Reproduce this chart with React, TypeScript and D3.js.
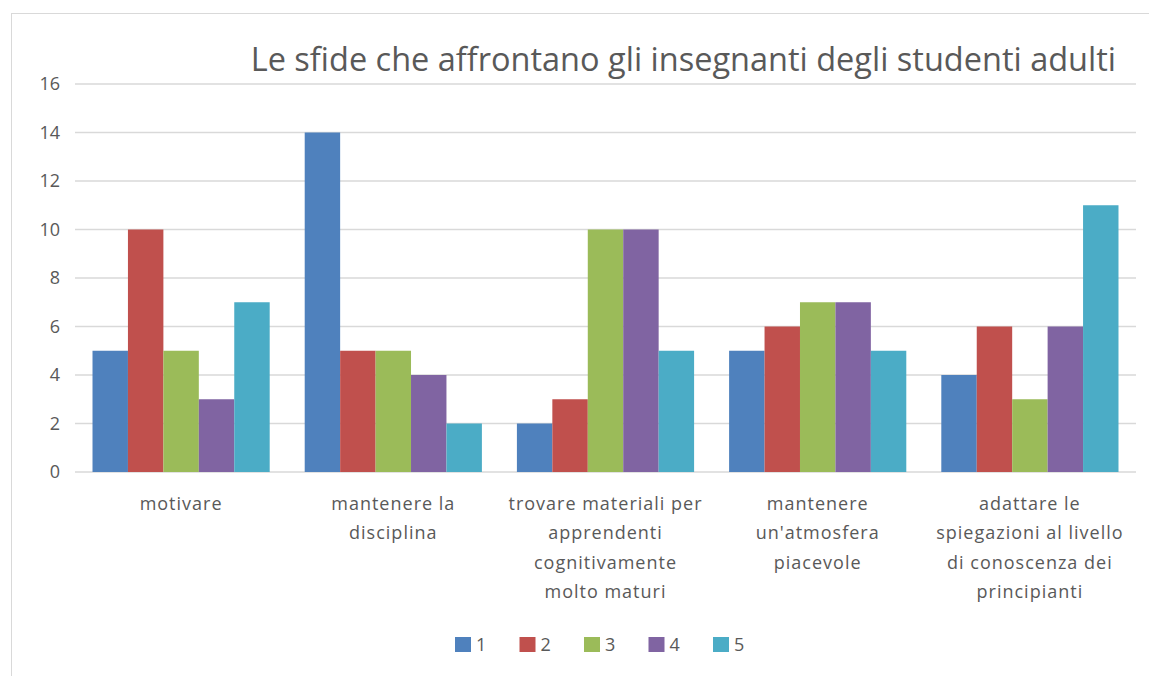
import * as d3 from "d3";

const categories = [
  "motivare",
  "mantenere la disciplina",
  "trovare materiali per apprendenti cognitivamente molto maturi",
  "mantenere un'atmosfera piacevole",
  "adattare le spiegazioni al livello di conoscenza dei principianti",
];
const categoryLines = [
  ["motivare"],
  ["mantenere la", "disciplina"],
  ["trovare materiali per", "apprendenti", "cognitivamente", "molto maturi"],
  ["mantenere", "un'atmosfera", "piacevole"],
  ["adattare le", "spiegazioni al livello", "di conoscenza dei", "principianti"],
];
const seriesNames = ["1", "2", "3", "4", "5"];
const series1 = [5, 14, 2, 5, 4];
const series2 = [10, 5, 3, 6, 6];
const series3 = [5, 5, 10, 7, 3];
const series4 = [3, 4, 10, 7, 6];
const series5 = [7, 2, 5, 5, 11];
const yTicks = [0, 2, 4, 6, 8, 10, 12, 14, 16];
const colors = ["#4F81BD", "#C0504D", "#9BBB59", "#8064A2", "#4BACC6"];

const W = 1149;
const H = 676;
const font = "'Open Sans', 'Noto Sans', sans-serif";

export default function App() {
  const allSeries = [series1, series2, series3, series4, series5];
  const left = 75, right = 1136, top = 84, bottom = 472;

  const x0 = d3.scaleBand<number>()
    .domain(d3.range(categories.length))
    .range([left, right])
    .paddingInner(0.165)
    .paddingOuter(0.0825);
  const x1 = d3.scaleBand<number>()
    .domain(d3.range(seriesNames.length))
    .range([0, x0.bandwidth()]);
  const y = d3.scaleLinear().domain([0, 16]).range([bottom, top]);

  const legendX = d3.scalePoint<string>()
    .domain(seriesNames)
    .range([454, 712]);

  return (
    <svg width={W} height={H} style={{ position: "absolute", left: 0, top: 0 }} fontFamily={font}>
      <rect x={0} y={0} width={W} height={H} fill="#fff" />
      <rect x={11.5} y={13.5} width={1140} height={670} fill="#fff" stroke="#d9d9d9" />
      <text x={1116} y={71} textAnchor="end" fontSize={32.5} fill="#595959">
        Le sfide che affrontano gli insegnanti degli studenti adulti
      </text>
      {yTicks.map((t) => (
        <g key={t}>
          <line x1={left} x2={right} y1={y(t)} y2={y(t)} stroke="#d9d9d9" strokeWidth={1.3} />
          <text x={60} y={y(t)} dy="0.36em" textAnchor="end" fontSize={18} fill="#595959">{t}</text>
        </g>
      ))}
      {categories.map((c, i) => (
        <g key={c} transform={`translate(${x0(i)},0)`}>
          {allSeries.map((s, j) => (
            <rect key={j} x={x1(j)} y={y(s[i])} width={x1.bandwidth()} height={bottom - y(s[i])} fill={colors[j]} />
          ))}
          <text textAnchor="middle" fontSize={18} letterSpacing={1} fill="#595959">
            {categoryLines[i].map((line, k) => (
              <tspan key={k} x={x0.bandwidth() / 2} y={510 + k * 29.3}>{line}</tspan>
            ))}
          </text>
        </g>
      ))}
      {seriesNames.map((n, j) => (
        <g key={n} transform={`translate(${legendX(n)},0)`}>
          <rect x={1} y={637} width={16} height={15} fill={colors[j]} />
          <text x={22} y={651} fontSize={18} fill="#595959">{n}</text>
        </g>
      ))}
    </svg>
  );
}
